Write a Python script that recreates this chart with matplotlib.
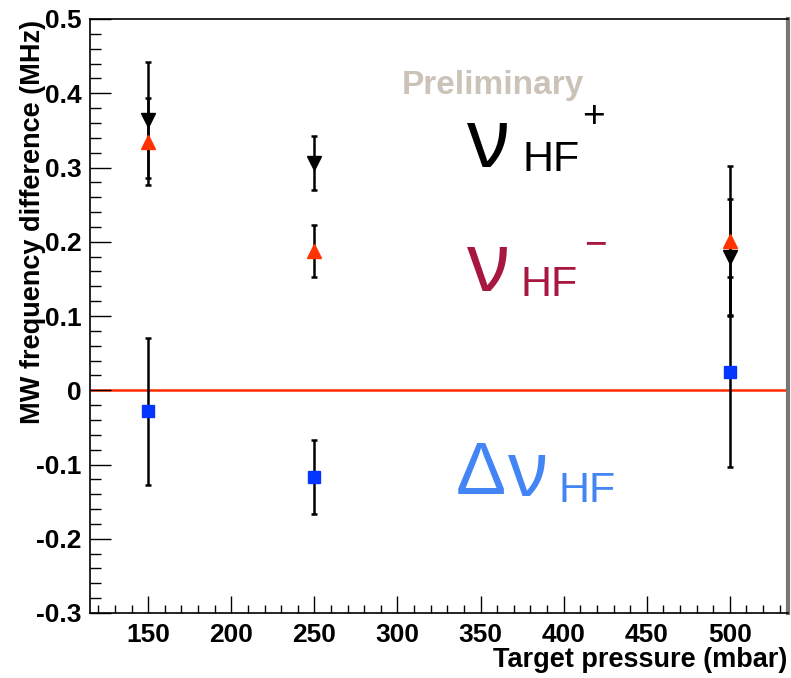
"""
MW frequency difference vs target pressure (nu_HF+, nu_HF-, delta nu_HF)
"""

import matplotlib
matplotlib.use('Agg')
from matplotlib import pyplot as plt
from matplotlib.ticker import MultipleLocator

# Data
pressure = [150, 250, 500]

nu_plus = [0.364, 0.306, 0.180]
nu_plus_err = [0.078, 0.036, 0.078]

nu_minus = [0.335, 0.187, 0.201]
nu_minus_err = [0.059, 0.035, 0.101]

delta_nu = [-0.028, -0.117, 0.025]
delta_nu_err = [0.099, 0.050, 0.128]

x_ticks = [150, 200, 250, 300, 350, 400, 450, 500]
y_ticks = [-0.3, -0.2, -0.1, 0, 0.1, 0.2, 0.3, 0.4, 0.5]
y_tick_labels = ['-0.3', '-0.2', '-0.1', '0', '0.1', '0.2', '0.3', '0.4', '0.5']

plt.rcParams['font.family'] = ['Liberation Sans', 'DejaVu Sans']

W, H = 791, 678
fig = plt.figure(figsize=(W / 100, H / 100), dpi=100)
ax = fig.add_axes([90 / W, 1 - 613 / H, (788 - 90) / W, (613 - 19) / H])

ax.set_xlim(115, 535)
ax.set_ylim(-0.3, 0.5)

ax.axhline(0, color='#ff2a00', linewidth=1.8, zorder=1)

err_kw = dict(fmt='none', ecolor='black', elinewidth=1.8, capsize=2.2, capthick=1.8, zorder=2)
ax.errorbar(pressure, nu_plus, yerr=nu_plus_err, **err_kw)
ax.errorbar(pressure, nu_minus, yerr=nu_minus_err, **err_kw)
ax.errorbar(pressure, delta_nu, yerr=delta_nu_err, **err_kw)

ax.plot(pressure, nu_plus, linestyle='none', marker='v', markersize=10,
        color='black', zorder=3)
ax.plot(pressure, nu_minus, linestyle='none', marker='^', markersize=10,
        color='#ff3300', zorder=3)
ax.plot(pressure, delta_nu, linestyle='none', marker='s', markersize=9,
        color='#0536ff', zorder=3)

# Axes and ticks (ROOT style)
ax.set_xticks(x_ticks)
ax.set_xticklabels([str(t) for t in x_ticks], fontsize=19, fontweight='bold')
ax.xaxis.set_minor_locator(MultipleLocator(10))
ax.set_yticks(y_ticks)
ax.set_yticklabels(y_tick_labels, fontsize=19, fontweight='bold')
ax.yaxis.set_minor_locator(MultipleLocator(0.02))
ax.tick_params(axis='both', which='both', direction='in', width=1,
               top=False, right=False)
ax.tick_params(axis='y', which='major', length=15, pad=6)
ax.tick_params(axis='y', which='minor', length=8)
ax.tick_params(axis='x', which='major', length=12, pad=7)
ax.tick_params(axis='x', which='minor', length=6)
for s in ['left', 'bottom', 'top']:
    ax.spines[s].set_linewidth(1.2)
ax.spines['right'].set_color('#777777')
ax.spines['right'].set_linewidth(3)

fig.text(787 / W, 1 - 660 / H, 'Target pressure (mbar)', ha='right', va='center',
         fontsize=19.5, fontweight='bold')
fig.text(33 / W, 1 - 20 / H, 'MW frequency difference (MHz)', ha='center', va='top',
         rotation=90, fontsize=19.5, fontweight='bold')

# Annotations
def px(x, y):
    return x / W, 1 - y / H

fig.text(*px(402, 94), 'Preliminary', color='#cbc2b8', fontsize=24,
         fontweight='bold', ha='left', va='baseline')

big = 59
small = 31
greek = ['Noto Sans', 'DejaVu Sans']

fig.text(*px(467, 167), '\u03bd', color='black', fontsize=big,
         family=greek, ha='left', va='baseline')
fig.text(*px(523, 171), 'HF', color='black', fontsize=small,
         ha='left', va='baseline')
fig.text(*px(593, 117), '+', color='black', fontsize=28,
         ha='center', va='center')

crimson = '#a8173f'
fig.text(*px(467, 291), '\u03bd', color=crimson, fontsize=big,
         family=greek, ha='left', va='baseline')
fig.text(*px(521, 296), 'HF', color=crimson, fontsize=small,
         ha='left', va='baseline')
fig.text(*px(595, 245), '\u2212', color=crimson, fontsize=28,
         ha='center', va='center')

blue = '#4385f5'
fig.text(*px(456, 494), '\u0394', color=blue, fontsize=54,
         ha='left', va='baseline')
fig.text(*px(508, 496), '\u03bd', color=blue, fontsize=55,
         family=greek, ha='left', va='baseline')
fig.text(*px(558, 502), 'HF', color=blue, fontsize=small,
         ha='left', va='baseline')

fig.savefig('out.png', dpi=100)
